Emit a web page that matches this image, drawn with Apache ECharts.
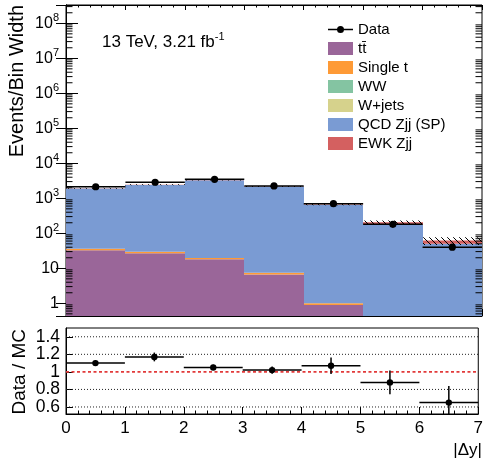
<!DOCTYPE html>
<html><head><meta charset="utf-8">
<script src="https://cdn.jsdelivr.net/npm/echarts@6/dist/echarts.min.js"></script>
<style>html,body{margin:0;padding:0;background:#fff}#c{width:486px;height:468px}</style>
</head><body><div id="c"></div>
<script>
// ---------- data ----------
const binEdges = [0, 1, 2, 3, 4, 5, 6, 7];
const xTickLabels = ['0', '1', '2', '3', '4', '5', '6', '7'];
const ttbar     = [33, 27, 18, 6.7, 0.9, 0, 0];
const singleTop = [3, 2.5, 1.6, 0.7, 0.1, 0, 0];
const ww        = [0.03, 0.03, 0.02, 0.01, 0.002, 0.002, 0.001];
const wjets     = [0.05, 0.05, 0.04, 0.02, 0.003, 0.003, 0.002];
const qcdZjj    = [1870, 2380, 3260, 2160, 645, 176, 50];
const ewkZjj    = [25, 40, 40, 30, 15, 30, 12];
const mcUncFrac = [0.03, 0.03, 0.03, 0.03, 0.04, 0.12, 0.25];
const dataValues = [2140, 2870, 3490, 2250, 700, 181, 40];
const dataErrors = [46, 54, 59, 47, 26, 13, 6.3];
const ratioValues = [1.10, 1.17, 1.05, 1.02, 1.07, 0.88, 0.65];
const ratioErrors = [0.03, 0.05, 0.03, 0.04, 0.095, 0.135, 0.19];
const ratioGridLines = [0.6, 0.8, 1.2, 1.4];
const ratioRefLine = 1;
const stackNames = ['tt\u0304', 'Single t', 'WW', 'W+jets', 'QCD Zjj (SP)', 'EWK Zjj'];
const stackColors = ['#9a6699', '#fe9a36', '#84c4a2', '#d6d28c', '#7a9bd3', '#d46060'];

// ---------- build ----------
const FONT = 'Liberation Sans';
const components = [ttbar, singleTop, ww, wjets, qcdZjj, ewkZjj];
const nBins = dataValues.length;

function makeHatch() {
  const c = document.createElement('canvas');
  c.width = 6; c.height = 6;
  const g = c.getContext('2d');
  g.strokeStyle = '#000'; g.lineWidth = 1;
  g.beginPath();
  g.moveTo(-1, -1); g.lineTo(7, 7);
  g.moveTo(-1, 5); g.lineTo(1, 7);
  g.moveTo(5, -1); g.lineTo(7, 1);
  g.stroke();
  return c;
}
const hatch = makeHatch();

function renderBar(params, api) {
  const cs = params.coordSys; const bottom = cs.y + cs.height;
  const x0 = api.value(0), x1 = api.value(1), lo = api.value(2), hi = api.value(3);
  const pL = api.coord([x0, hi]), pR = api.coord([x1, hi]);
  const yTop = Math.max(cs.y, pL[1]);
  const yLo = lo > 0 ? Math.min(bottom, api.coord([x0, lo])[1]) : bottom;
  if (yLo <= yTop) return null;
  const xa = Math.round(pL[0]), xb = Math.round(pR[0]);
  return { type: 'rect', shape: { x: xa, y: yTop, width: xb - xa, height: yLo - yTop },
    style: { fill: api.visual('color') } };
}
function renderBand(params, api) {
  const cs = params.coordSys; const bottom = cs.y + cs.height;
  const x0 = api.value(0), x1 = api.value(1), lo = api.value(2), hi = api.value(3);
  const pL = api.coord([x0, hi]), pR = api.coord([x1, hi]);
  const yTop = Math.max(cs.y, pL[1]);
  const yLo = Math.min(bottom, api.coord([x0, lo])[1]);
  const xa = Math.round(pL[0]), xb = Math.round(pR[0]);
  return { type: 'rect', shape: { x: xa, y: yTop, width: xb - xa, height: Math.max(1, yLo - yTop) },
    style: { fill: { image: hatch, repeat: 'repeat' } } };
}
function renderPoint(r) {
  return function (params, api) {
    const cs = params.coordSys; const bottom = cs.y + cs.height;
    const x0 = api.value(0), x1 = api.value(1), v = api.value(2), e = api.value(3);
    const xm = (x0 + x1) / 2;
    const pL = api.coord([x0, v]), pR = api.coord([x1, v]), pC = api.coord([xm, v]);
    const yHi = Math.max(cs.y, api.coord([xm, v + e])[1]);
    const yLo = Math.min(bottom, api.coord([xm, v - e])[1]);
    return { type: 'group', children: [
      { type: 'line', shape: { x1: pL[0], y1: pC[1], x2: pR[0], y2: pC[1] }, style: { stroke: '#000', lineWidth: 1.5 } },
      { type: 'line', shape: { x1: pC[0], y1: yHi, x2: pC[0], y2: yLo }, style: { stroke: '#000', lineWidth: 1.5 } },
      { type: 'circle', shape: { cx: pC[0], cy: pC[1], r: r }, style: { fill: '#000' } }
    ] };
  };
}

let base = new Array(nBins).fill(0);
const stackSeries = components.map((vals, k) => {
  const data = [];
  for (let i = 0; i < nBins; i++) {
    const lo = base[i], hi = base[i] + vals[i];
    if (vals[i] > 0) data.push([binEdges[i], binEdges[i + 1], lo, hi]);
    base[i] = hi;
  }
  return { type: 'custom', name: stackNames[k], xAxisIndex: 0, yAxisIndex: 0,
    itemStyle: { color: stackColors[k] }, data: data, encode: { x: [0, 1], y: [3] },
    renderItem: renderBar, z: 2, silent: true };
});
const mcTotal = base.slice();
const bandData = mcTotal.map((t, i) => [binEdges[i], binEdges[i + 1], t * (1 - mcUncFrac[i]), t * (1 + mcUncFrac[i])]);

const minorTickSeries = {
  type: 'custom', name: 'minorLog', xAxisIndex: 0, yAxisIndex: 0, z: 10, silent: true,
  data: [[0.5, 1]], encode: { x: [0], y: [1] },
  renderItem: function (params, api) {
    const cs = params.coordSys; const children = [];
    for (let n = -1; n <= 8; n++) {
      for (let k = 2; k <= 9; k++) {
        const y = api.coord([0, k * Math.pow(10, n)])[1];
        if (y < cs.y || y > cs.y + cs.height) continue;
        children.push({ type: 'line', shape: { x1: cs.x, y1: y, x2: cs.x + 6.5, y2: y }, style: { stroke: '#000', lineWidth: 1 } });
        children.push({ type: 'line', shape: { x1: cs.x + cs.width - 6.5, y1: y, x2: cs.x + cs.width, y2: y }, style: { stroke: '#000', lineWidth: 1 } });
      }
    }
    return { type: 'group', children: children };
  }
};

const refLineSeries = {
  type: 'custom', name: 'refLines', xAxisIndex: 2, yAxisIndex: 2, z: 1, silent: true,
  data: ratioGridLines.map(v => [0, v, 0]).concat([[0, ratioRefLine, 1]]), encode: { x: [0], y: [1] },
  renderItem: function (params, api) {
    const cs = params.coordSys;
    const y = api.coord([0, api.value(1)])[1];
    const isRef = api.value(2) === 1;
    return { type: 'line', shape: { x1: cs.x, y1: y, x2: cs.x + cs.width, y2: y },
      style: isRef ? { stroke: '#e23a3a', lineWidth: 1.6, lineDash: [3, 2.5] }
                   : { stroke: '#222', lineWidth: 1, lineDash: [1, 2] } };
  }
};

const supRich = { s: { fontSize: 11, lineHeight: 8, verticalAlign: 'top', fontFamily: FONT, color: '#000' } };
function logLabel(v) {
  const n = Math.round(Math.log10(v));
  if (Math.abs(v - Math.pow(10, n)) / Math.pow(10, n) > 1e-6) return '';
  if (n === 0) return '1';
  if (n === 1) return '10';
  return '10{s|' + n + '}';
}

const dataIcon = 'path://M0,0L0.01,0L0,0.01Z M25,13L24.99,13L25,12.99Z M0,5.75L25,5.75L25,7.25L0,7.25Z M16,6.5A3.5,3.5 0 1 1 9,6.5A3.5,3.5 0 1 1 16,6.5Z';

const option = {
  animation: false,
  textStyle: { fontFamily: FONT },
  grid: [
    { left: 66, top: 5, width: 416, height: 311, show: true, borderColor: '#000', borderWidth: 1, backgroundColor: 'transparent' },
    { left: 66, top: 328, width: 416, height: 86, show: true, borderColor: '#000', borderWidth: 1, backgroundColor: 'transparent' }
  ],
  xAxis: [
    { gridIndex: 0, type: 'value', min: 0, max: 7, interval: 1, position: 'bottom',
      axisLine: { show: true, lineStyle: { color: '#000' } },
      axisTick: { show: true, inside: true, length: 7, lineStyle: { color: '#000' } },
      minorTick: { show: true, splitNumber: 5, length: 3.5, lineStyle: { color: '#000' } },
      axisLabel: { show: false }, splitLine: { show: false } },
    { gridIndex: 0, type: 'value', min: 0, max: 7, interval: 1, position: 'top',
      axisLine: { show: true, lineStyle: { color: '#000' } },
      axisTick: { show: true, inside: true, length: 5, lineStyle: { color: '#000' } },
      minorTick: { show: true, splitNumber: 5, length: 2.5, lineStyle: { color: '#000' } },
      axisLabel: { show: false }, splitLine: { show: false } },
    { gridIndex: 1, type: 'value', min: 0, max: 7, interval: 1, position: 'bottom',
      axisLine: { show: true, lineStyle: { color: '#000' } },
      axisTick: { show: true, inside: true, length: 7, lineStyle: { color: '#000' } },
      minorTick: { show: true, splitNumber: 5, length: 3.5, lineStyle: { color: '#000' } },
      axisLabel: { show: true, fontSize: 17, color: '#000', margin: 6, fontFamily: FONT,
        formatter: v => { const i = binEdges.indexOf(v); return i >= 0 ? xTickLabels[i] : ''; } },
      splitLine: { show: false } }
  ],
  yAxis: [
    { gridIndex: 0, type: 'log', logBase: 10, min: 0.4335, max: 3.334e8, position: 'left',
      axisLine: { show: true, lineStyle: { color: '#000' } },
      axisTick: { show: true, inside: true, length: 12, lineStyle: { color: '#000' } },
      axisLabel: { show: true, fontSize: 16, lineHeight: 22, color: '#000', margin: 7, fontFamily: FONT,
        formatter: logLabel, rich: supRich, showMinLabel: false, showMaxLabel: false },
      splitLine: { show: false } },
    { gridIndex: 0, type: 'log', logBase: 10, min: 0.4335, max: 3.334e8, position: 'right',
      axisLine: { show: true, lineStyle: { color: '#000' } },
      axisTick: { show: true, inside: true, length: 10, lineStyle: { color: '#000' } },
      axisLabel: { show: false }, splitLine: { show: false } },
    { gridIndex: 1, type: 'value', min: 0.52, max: 1.5, position: 'left',
      axisLine: { show: true, lineStyle: { color: '#000' } },
      axisTick: { show: true, inside: true, length: 7, lineStyle: { color: '#000' } },
      axisLabel: { show: true, fontSize: 17.5, color: '#000', margin: 6, fontFamily: FONT,
        showMinLabel: false, showMaxLabel: false },
      splitLine: { show: false } }
  ],
  legend: {
    orient: 'vertical', left: 328, top: 22, padding: 0, itemWidth: 25, itemHeight: 13, itemGap: 4,
    icon: 'rect', selectedMode: false,
    textStyle: { fontSize: 15, lineHeight: 15, color: '#000', fontFamily: FONT },
    data: [{ name: 'Data', icon: dataIcon }].concat(stackNames.map(n => ({ name: n })))
  },
  graphic: [
    { type: 'text', x: 102, y: 42, silent: true,
      style: { text: '{a|13 TeV, 3.21 fb}{s|-1}', textVerticalAlign: 'middle',
        rich: { a: { fontSize: 17, lineHeight: 22, fontFamily: FONT, fill: '#000' },
                s: { fontSize: 11, lineHeight: 11, verticalAlign: 'top', fontFamily: FONT, fill: '#000' } } } },
    { type: 'text', x: 17.5, y: 5, rotation: Math.PI / 2, silent: true,
      style: { text: 'Events/Bin Width', fontSize: 20, fontFamily: FONT, fill: '#000', textAlign: 'right', textVerticalAlign: 'middle' } },
    { type: 'text', x: 19.5, y: 329, rotation: Math.PI / 2, silent: true,
      style: { text: 'Data / MC', fontSize: 19, fontFamily: FONT, fill: '#000', textAlign: 'right', textVerticalAlign: 'middle' } },
    { type: 'text', x: 482, y: 450, silent: true,
      style: { text: '|\u0394y|', fontSize: 17, fontFamily: FONT, fill: '#000', textAlign: 'right', textVerticalAlign: 'middle' } }
  ],
  series: stackSeries.concat([
    { type: 'custom', name: 'MC uncertainty', xAxisIndex: 0, yAxisIndex: 0, z: 3, silent: true,
      data: bandData, encode: { x: [0, 1], y: [3] }, renderItem: renderBand },
    { type: 'custom', name: 'Data', xAxisIndex: 0, yAxisIndex: 0, z: 5, silent: true,
      itemStyle: { color: '#000' },
      data: dataValues.map((v, i) => [binEdges[i], binEdges[i + 1], v, dataErrors[i]]),
      encode: { x: [0, 1], y: [2] }, renderItem: renderPoint(3.6) },
    minorTickSeries,
    refLineSeries,
    { type: 'custom', name: 'Ratio', xAxisIndex: 2, yAxisIndex: 2, z: 5, silent: true,
      itemStyle: { color: '#000' },
      data: ratioValues.map((v, i) => [binEdges[i], binEdges[i + 1], v, ratioErrors[i]]),
      encode: { x: [0, 1], y: [2] }, renderItem: renderPoint(3.2) }
  ])
};

const chart = echarts.init(document.getElementById('c'), null, { renderer: 'canvas' });
chart.setOption(option);
</script>
</body></html>
